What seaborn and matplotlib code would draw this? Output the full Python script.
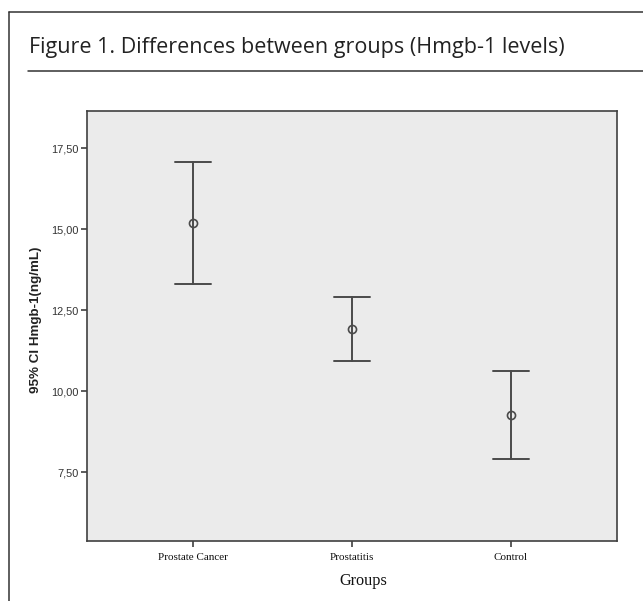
import matplotlib

matplotlib.use("Agg")
import matplotlib.pyplot as plt
import numpy as np
import pandas as pd
import seaborn as sns
from matplotlib.lines import Line2D
from matplotlib.ticker import FuncFormatter

# values (95% CI of Hmgb-1, ng/mL)
groups = ["Prostate Cancer", "Prostatitis", "Control"]
means = [15.19, 11.92, 9.27]
ci_low = [13.31, 10.94, 7.90]
ci_high = [17.09, 12.92, 10.64]
yticks = [7.5, 10.0, 12.5, 15.0, 17.5]

title = "Figure 1. Differences between groups (Hmgb-1 levels)"
ylabel = "95% CI Hmgb-1(ng/mL)"
xlabel = "Groups"

sns.set_theme(style="white")

# long table: low / mean / high per group; median gives the mean, 100% interval gives the CI
rows = []
for g, lo, m, hi in zip(groups, ci_low, means, ci_high):
    for v in (lo, m, hi):
        rows.append({"group": g, "value": v})
df = pd.DataFrame(rows)

fig = plt.figure(figsize=(6.43, 6.01), dpi=100)
fig.patch.set_facecolor("white")
ax = fig.add_axes([0.1348, 0.0998, 0.8255, 0.716])
ax.set_facecolor("#ebebeb")

line_col = "#4a4a4a"
sns.pointplot(
    data=df,
    x="group",
    y="value",
    order=groups,
    estimator="median",
    errorbar=("pi", 100),
    capsize=0.226,
    linestyle="none",
    marker="o",
    markersize=5.8,
    markerfacecolor="none",
    markeredgewidth=1.2,
    color=line_col,
    err_kws={"linewidth": 1.4, "color": line_col},
    ax=ax,
)

ax.set_xlim(-0.67, 2.67)
ax.set_ylim(5.38, 18.66)
ax.set_yticks(yticks)
ax.yaxis.set_major_formatter(FuncFormatter(lambda v, _: f"{v:.2f}".replace(".", ",")))

for side in ["left", "bottom", "top", "right"]:
    ax.spines[side].set_visible(True)
    ax.spines[side].set_color("#404040")
    ax.spines[side].set_linewidth(1.2)

ax.tick_params(axis="y", direction="out", length=4.5, width=1.2, color="#404040",
               labelsize=7.9, labelcolor="#333333", pad=1.5, left=True)
ax.tick_params(axis="x", direction="out", length=4.5, width=1.2, color="#404040",
               labelsize=8, labelcolor="#111111", pad=4, bottom=True)
for lab in ax.get_yticklabels():
    lab.set_family("Liberation Sans")
for lab in ax.get_xticklabels():
    lab.set_family("Liberation Serif")

ax.set_xlabel(xlabel, family="Liberation Serif", fontsize=11.7, color="#111111", va="center")
ax.xaxis.set_label_coords(0.522, -0.092)
ax.set_ylabel(ylabel, family="Liberation Sans", fontsize=9.6, fontweight="bold",
              color="#222222", va="center", ha="center")
ax.yaxis.set_label_coords(-0.0955, 0.514)

# outer frame (left and top edges, the rest runs off the crop) and title rule
frame_col = "#333333"
fig.add_artist(Line2D([0.0145, 0.0145], [0.0, 0.9797], transform=fig.transFigure,
                      color=frame_col, linewidth=1.1))
fig.add_artist(Line2D([0.0145, 1.0], [0.9797, 0.9797], transform=fig.transFigure,
                      color=frame_col, linewidth=1.1))
fig.add_artist(Line2D([0.043, 1.0], [0.882, 0.882], transform=fig.transFigure,
                      color=frame_col, linewidth=1.1))
fig.text(0.045, 0.912, title, family="Open Sans", fontsize=15.45, color="#222222",
         ha="left", va="baseline")

fig.savefig("out.png", dpi=100)
